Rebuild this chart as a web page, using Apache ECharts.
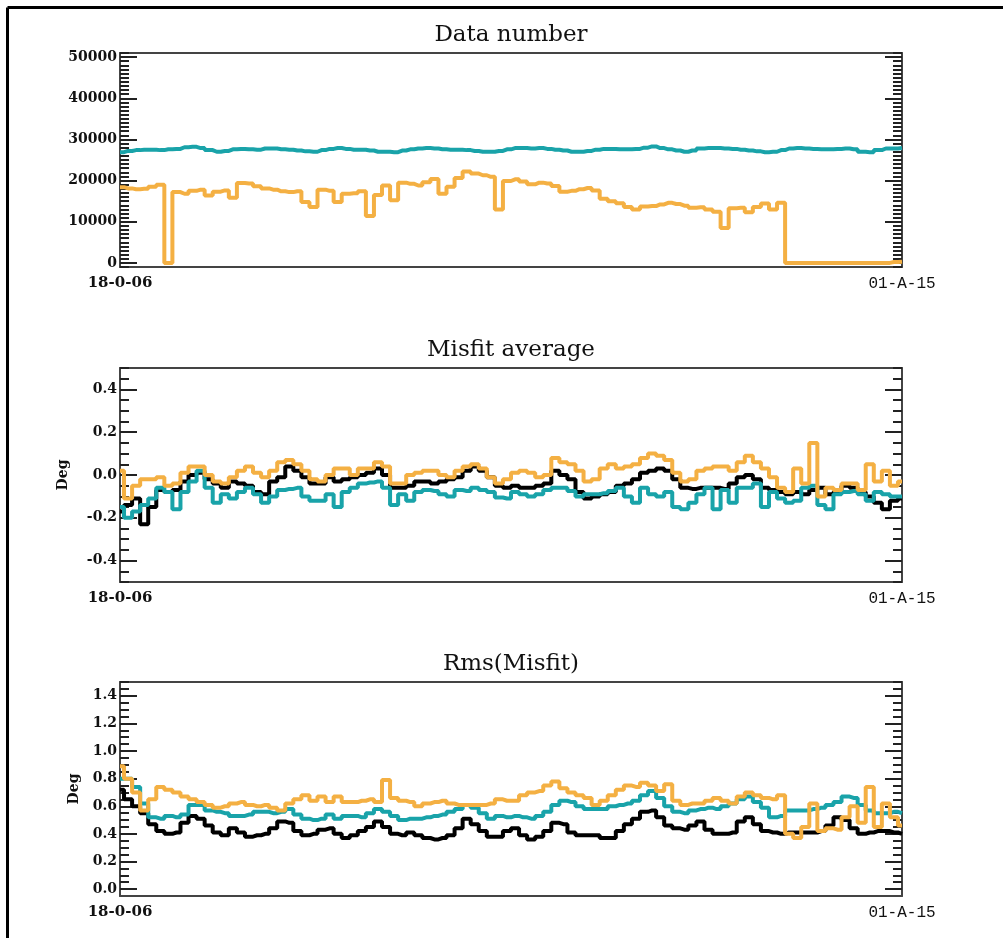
<!DOCTYPE html>
<html>
<head>
<meta charset="utf-8">
<script src="https://cdn.jsdelivr.net/npm/echarts@6/dist/echarts.min.js"></script>
<style>
  html, body { margin: 0; padding: 0; background: #fff; }
  #chart { width: 1003px; height: 938px; }
</style>
</head>
<body>
<div id="chart"></div>
<script>
// Time axis end labels (first and last sample)
const xTickLabels = ['18-0-06', '01-A-15'];
const panelTitles = ['Data number', 'Misfit average', 'Rms(Misfit)'];

// Panel 1: number of data per sample
const countTeal = [
  26900,27200,27400,27500,27500,27400,27600,27700,28100,28200,
  27900,27400,27000,27200,27600,27700,27600,27500,27800,27800,
  27600,27500,27300,27100,27000,27400,27700,27900,27700,27500,
  27500,27300,27000,27000,26900,27300,27600,27800,27900,27800,
  27600,27500,27500,27400,27200,27000,27000,27200,27600,27900,
  27900,27800,27900,27700,27500,27300,27000,27000,27200,27500,
  27700,27700,27600,27600,27700,28000,28300,27900,27600,27300,
  27000,27300,27800,27900,27900,27800,27700,27500,27300,27100,
  26900,27000,27400,27800,27900,27800,27700,27600,27600,27700,
  27800,27600,27000,26900,27400,27800,27800,27900
];
const countOrange = [
  18400,18100,17900,18000,18500,19000,0,17200,16800,17500,
  17800,16400,17300,17600,15800,19400,19300,18600,18100,17800,
  17400,17200,17400,14800,13600,17800,17500,14800,16800,16900,
  17400,11400,16500,18800,15200,19500,19200,18800,19600,20400,
  16800,18500,20600,22200,21700,21300,20900,13000,19900,20300,
  19800,19100,19500,19300,18700,17300,17500,17900,18200,17600,
  15600,15000,14500,13600,13000,13700,13800,14200,14600,14300,
  13900,13400,13500,13000,12400,8500,13300,13400,12300,13600,
  14400,13000,14600,0,0,0,0,0,0,0,
  0,0,0,0,0,0,200,300
];

// Panel 2: average misfit (deg)
const avgBlack = [
  -0.17,-0.14,-0.11,-0.23,-0.15,-0.07,-0.08,-0.07,-0.03,0.0,
  0.01,-0.02,-0.04,-0.06,-0.03,-0.04,-0.05,-0.08,-0.09,-0.03,
  -0.01,0.04,0.02,-0.01,-0.04,-0.04,-0.01,-0.03,-0.02,-0.01,
  0.0,0.01,0.03,0.0,-0.06,-0.06,-0.05,-0.03,-0.03,-0.04,
  -0.03,-0.02,-0.01,0.02,0.04,0.02,-0.01,-0.05,-0.06,-0.05,
  -0.06,-0.06,-0.05,-0.04,0.02,0.0,-0.02,-0.08,-0.11,-0.10,
  -0.09,-0.08,-0.05,-0.04,-0.02,0.01,0.02,0.03,0.02,-0.02,
  -0.06,-0.065,-0.06,-0.06,-0.06,-0.065,-0.04,-0.01,0.0,-0.02,
  -0.06,-0.07,-0.08,-0.09,-0.08,-0.09,-0.07,-0.06,-0.09,-0.08,
  -0.05,-0.06,-0.08,-0.10,-0.13,-0.16,-0.12,-0.11
];
const avgTeal = [
  -0.15,-0.20,-0.17,-0.14,-0.11,-0.06,-0.08,-0.16,-0.08,-0.03,
  0.02,-0.06,-0.13,-0.09,-0.11,-0.08,-0.06,-0.09,-0.13,-0.10,
  -0.07,-0.065,-0.06,-0.10,-0.12,-0.12,-0.09,-0.15,-0.08,-0.06,
  -0.04,-0.035,-0.03,-0.06,-0.14,-0.09,-0.12,-0.08,-0.07,-0.075,
  -0.09,-0.10,-0.07,-0.075,-0.06,-0.07,-0.08,-0.105,-0.11,-0.08,
  -0.09,-0.10,-0.09,-0.07,-0.06,-0.06,-0.075,-0.10,-0.09,-0.09,
  -0.085,-0.075,-0.06,-0.10,-0.13,-0.06,-0.09,-0.10,-0.08,-0.15,
  -0.16,-0.13,-0.09,-0.06,-0.16,-0.07,-0.13,-0.06,-0.06,-0.04,
  -0.15,-0.08,-0.11,-0.13,-0.12,-0.06,-0.05,-0.14,-0.16,-0.09,
  -0.08,-0.075,-0.09,-0.12,-0.08,-0.09,-0.10,-0.10
];
const avgOrange = [
  0.02,-0.11,-0.05,-0.02,-0.02,-0.01,-0.05,-0.04,0.01,0.04,
  0.04,0.0,-0.03,-0.04,-0.01,0.02,0.04,0.01,-0.01,0.02,
  0.06,0.07,0.05,0.02,-0.02,-0.03,0.0,0.03,0.03,0.0,
  0.03,0.03,0.06,0.04,-0.04,-0.04,0.0,0.01,0.02,0.02,
  0.0,-0.01,0.02,0.04,0.05,0.03,-0.01,-0.04,-0.02,0.01,
  0.02,0.01,-0.01,0.0,0.08,0.06,0.05,0.02,-0.03,-0.02,
  0.03,0.05,0.03,0.04,0.05,0.08,0.10,0.09,0.07,0.01,
  -0.03,-0.02,0.02,0.03,0.04,0.04,0.02,0.06,0.09,0.06,
  0.03,-0.01,-0.06,-0.08,0.03,-0.04,0.15,-0.10,-0.06,-0.07,
  -0.04,-0.04,-0.07,0.05,-0.03,0.02,-0.05,-0.03
];

// Panel 3: rms of misfit (deg)
const rmsBlack = [
  0.72,0.65,0.60,0.55,0.47,0.42,0.40,0.41,0.48,0.53,
  0.51,0.46,0.41,0.39,0.44,0.41,0.38,0.39,0.40,0.44,
  0.49,0.48,0.42,0.39,0.40,0.43,0.44,0.40,0.37,0.39,
  0.42,0.45,0.49,0.45,0.40,0.39,0.41,0.39,0.37,0.36,
  0.37,0.39,0.44,0.51,0.47,0.42,0.38,0.38,0.42,0.44,
  0.39,0.36,0.38,0.42,0.48,0.47,0.41,0.39,0.39,0.39,
  0.37,0.37,0.42,0.47,0.51,0.56,0.57,0.52,0.46,0.44,
  0.43,0.46,0.49,0.43,0.40,0.40,0.41,0.49,0.52,0.47,
  0.42,0.41,0.40,0.41,0.41,0.41,0.41,0.42,0.46,0.52,
  0.50,0.44,0.40,0.41,0.42,0.42,0.41,0.40
];
const rmsTeal = [
  0.80,0.80,0.74,0.62,0.52,0.51,0.53,0.52,0.54,0.61,
  0.61,0.57,0.56,0.55,0.53,0.53,0.54,0.56,0.56,0.55,
  0.56,0.58,0.54,0.51,0.50,0.51,0.54,0.51,0.53,0.53,
  0.52,0.55,0.58,0.56,0.53,0.50,0.51,0.51,0.52,0.53,
  0.54,0.56,0.58,0.61,0.59,0.55,0.51,0.53,0.52,0.53,
  0.52,0.51,0.53,0.56,0.61,0.64,0.63,0.60,0.58,0.58,
  0.58,0.60,0.61,0.62,0.64,0.68,0.71,0.66,0.60,0.56,
  0.55,0.57,0.58,0.59,0.58,0.60,0.62,0.65,0.67,0.63,
  0.59,0.52,0.53,0.57,0.57,0.57,0.58,0.59,0.61,0.63,
  0.67,0.66,0.61,0.57,0.55,0.55,0.56,0.55
];
const rmsOrange = [
  0.89,0.80,0.70,0.57,0.65,0.74,0.72,0.70,0.67,0.65,
  0.63,0.61,0.59,0.60,0.62,0.63,0.61,0.60,0.61,0.59,
  0.57,0.62,0.65,0.68,0.64,0.67,0.63,0.67,0.63,0.63,
  0.64,0.65,0.63,0.79,0.66,0.64,0.63,0.60,0.62,0.63,
  0.64,0.62,0.61,0.61,0.61,0.61,0.62,0.65,0.64,0.64,
  0.68,0.70,0.71,0.75,0.78,0.73,0.70,0.68,0.66,0.61,
  0.64,0.68,0.72,0.75,0.74,0.77,0.75,0.71,0.76,0.64,
  0.61,0.62,0.62,0.64,0.66,0.64,0.62,0.67,0.70,0.68,
  0.66,0.65,0.68,0.40,0.37,0.45,0.62,0.42,0.44,0.43,
  0.52,0.60,0.48,0.74,0.45,0.62,0.52,0.46
];

// Labelled y ticks of each panel
const countMajorTicks = [0, 10000, 20000, 30000, 40000, 50000];
const avgMajorTicks = [-0.4, -0.2, 0.0, 0.2, 0.4];
const rmsMajorTicks = [0.0, 0.2, 0.4, 0.6, 0.8, 1.0, 1.2, 1.4];

const COLORS = { black: '#000000', teal: '#19a3a9', orange: '#f4b043' };
const FRAME = '#444444';
const TICK = '#222222';
const SERIF = '"DejaVu Serif", "Liberation Serif", serif';

function steps(from, to, step) {
  const out = [];
  const n = Math.round((to - from) / step);
  for (let k = 0; k <= n; k++) out.push(+(from + k * step).toFixed(6));
  return out;
}

const panels = [
  { top: 53, min: -1000, max: 51000, majors: countMajorTicks,
    minors: steps(-1000, 51000, 1000), fmt: v => String(Math.round(v)), name: '', nameGap: 0,
    series: [ { d: countTeal, c: COLORS.teal }, { d: countOrange, c: COLORS.orange } ] },
  { top: 368, min: -0.5, max: 0.5, majors: avgMajorTicks,
    minors: steps(-0.5, 0.5, 0.05), fmt: v => v.toFixed(1), name: 'Deg', nameGap: 50,
    series: [ { d: avgBlack, c: COLORS.black }, { d: avgTeal, c: COLORS.teal }, { d: avgOrange, c: COLORS.orange } ] },
  { top: 682, min: -0.05, max: 1.5, majors: rmsMajorTicks,
    minors: steps(0, 1.5, 0.05), fmt: v => v.toFixed(1), name: 'Deg', nameGap: 39,
    series: [ { d: rmsBlack, c: COLORS.black }, { d: rmsTeal, c: COLORS.teal }, { d: rmsOrange, c: COLORS.orange } ] }
];

const nSamples = countTeal.length;
const xMax = nSamples - 1;

const grid = [], xAxis = [], yAxis = [], series = [], title = [];

panels.forEach((p, g) => {
  grid.push({ left: 120, top: p.top, width: 782, height: 214 });

  title.push({
    text: panelTitles[g], left: 511, top: p.top - 29, textAlign: 'center', padding: 0,
    textStyle: { fontFamily: SERIF, fontWeight: 'normal', fontSize: 23, color: '#111' }
  });

  // bottom axis with end labels, top axis as frame line
  xAxis.push({
    type: 'value', gridIndex: g, min: 0, max: xMax, position: 'bottom',
    axisLine: { show: true, onZero: false, lineStyle: { color: FRAME, width: 2 } },
    axisTick: { show: false }, splitLine: { show: false },
    axisLabel: {
      show: true, customValues: [0, xMax], showMinLabel: true, showMaxLabel: true, margin: 9,
      formatter: v => (v === 0 ? '{a|' + xTickLabels[0] + '}' : '{b|' + xTickLabels[1] + '}'),
      rich: {
        a: { fontFamily: SERIF, fontWeight: 'bold', fontSize: 15, color: '#111' },
        b: { fontFamily: '"Liberation Mono", "DejaVu Sans Mono", monospace', fontSize: 16, color: '#111' }
      }
    }
  });
  xAxis.push({
    type: 'value', gridIndex: g, min: 0, max: xMax, position: 'top',
    axisLine: { show: true, onZero: false, lineStyle: { color: FRAME, width: 2 } },
    axisTick: { show: false }, axisLabel: { show: false }, splitLine: { show: false }
  });

  const base = { type: 'value', gridIndex: g, min: p.min, max: p.max, splitLine: { show: false } };
  // left: labelled majors
  yAxis.push(Object.assign({}, base, {
    position: 'left',
    axisLine: { show: true, lineStyle: { color: FRAME, width: 2 } },
    axisTick: { show: true, inside: true, length: 17, customValues: p.majors, lineStyle: { color: TICK, width: 2 } },
    axisLabel: { show: true, customValues: p.majors, formatter: p.fmt, margin: 3,
      fontFamily: SERIF, fontWeight: 'bold', fontSize: 14, color: '#111' },
    name: p.name, nameLocation: 'middle', nameGap: p.nameGap, nameRotate: 90,
    nameTextStyle: { fontFamily: SERIF, fontWeight: 'bold', fontSize: 14, color: '#111' }
  }));
  // left: minor ticks
  yAxis.push(Object.assign({}, base, {
    position: 'left', axisLine: { show: false },
    axisTick: { show: true, inside: true, length: 9, customValues: p.minors, lineStyle: { color: TICK, width: 2 } },
    axisLabel: { show: false }
  }));
  // right: majors and minors, no labels
  yAxis.push(Object.assign({}, base, {
    position: 'right',
    axisLine: { show: true, lineStyle: { color: FRAME, width: 2 } },
    axisTick: { show: true, inside: true, length: 17, customValues: p.majors, lineStyle: { color: TICK, width: 2 } },
    axisLabel: { show: false }
  }));
  yAxis.push(Object.assign({}, base, {
    position: 'right', axisLine: { show: false },
    axisTick: { show: true, inside: true, length: 9, customValues: p.minors, lineStyle: { color: TICK, width: 2 } },
    axisLabel: { show: false }
  }));

  p.series.forEach(s => {
    series.push({
      type: 'line', xAxisIndex: g * 2, yAxisIndex: g * 4,
      data: s.d.map((v, i) => [i, v]),
      step: 'middle', showSymbol: false, silent: true, animation: false,
      lineStyle: { color: s.c, width: 4 }, clip: true
    });
  });
});

const chart = echarts.init(document.getElementById('chart'), null, { renderer: 'canvas' });
chart.setOption({
  backgroundColor: '#ffffff',
  animation: false,
  title, grid, xAxis, yAxis, series,
  graphic: [
    { type: 'line', shape: { x1: 7.5, y1: 7.5, x2: 7.5, y2: 938 }, style: { stroke: '#000', lineWidth: 3 } },
    { type: 'line', shape: { x1: 7.5, y1: 7.5, x2: 1003, y2: 7.5 }, style: { stroke: '#000', lineWidth: 3 } }
  ]
});
</script>
</body>
</html>
